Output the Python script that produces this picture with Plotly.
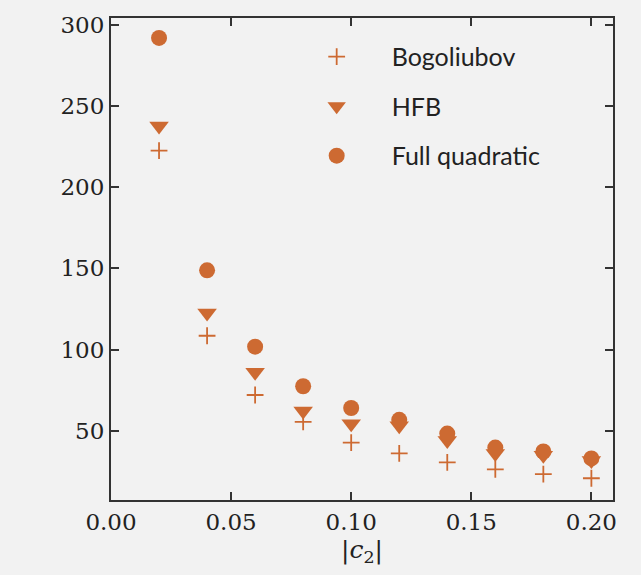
import plotly.graph_objects as go

c2 = [0.02, 0.04, 0.06, 0.08, 0.10, 0.12, 0.14, 0.16, 0.18, 0.20]
bogoliubov = [222.6, 108.5, 72.0, 55.5, 42.7, 36.0, 30.5, 26.2, 23.2, 20.7]
hfb = [237.8, 122.6, 86.0, 62.2, 54.3, 53.0, 43.9, 36.0, 34.8, 31.7]
full_quadratic = [292.0, 148.8, 101.8, 77.4, 64.0, 56.7, 48.2, 39.6, 37.2, 32.9]

x_ticks = [0.00, 0.05, 0.10, 0.15, 0.20]
y_ticks = [50, 100, 150, 200, 250, 300]

color = "#cd6a32"
bg = "#f2f2f2"
axis_color = "#333333"

fig = go.Figure()
fig.add_trace(go.Scatter(
    x=c2, y=bogoliubov, mode="markers", name="Bogoliubov", legendgroup="a",
    marker=dict(symbol="cross-thin", size=12, color=color, line=dict(color=color, width=1.8)),
))
fig.add_trace(go.Scatter(
    x=c2, y=hfb, mode="markers", name="HFB", legendgroup="b",
    marker=dict(symbol="triangle-down", size=17, color=color, line=dict(width=0)),
))
fig.add_trace(go.Scatter(
    x=c2, y=full_quadratic, mode="markers", name="Full quadratic", legendgroup="c",
    marker=dict(symbol="circle", size=16, color=color, line=dict(width=0)),
))

axis_common = dict(
    showline=True, linecolor=axis_color, linewidth=2, mirror="ticks",
    ticks="inside", ticklen=8, tickwidth=1.5, tickcolor=axis_color,
    showgrid=False, zeroline=False,
    tickfont=dict(family="DejaVu Serif", size=23, color="#222222"),
)

fig.update_layout(
    width=641, height=575,
    margin=dict(l=111, r=28, t=13, b=75),
    paper_bgcolor=bg, plot_bgcolor=bg,
    showlegend=True,
    legend=dict(
        x=0.34, y=0.967, xanchor="left", yanchor="top",
        bgcolor="rgba(0,0,0,0)", tracegroupgap=14, itemwidth=100,
        font=dict(family="Lato", size=25, color="#222222"),
    ),
    xaxis=dict(
        range=[0, 0.209], tickvals=x_ticks,
        ticktext=[f"{v:.2f}" for v in x_ticks],
        title=dict(text="|<i>c</i><sub>2</sub>|", standoff=4,
                   font=dict(family="DejaVu Serif", size=25, color="#222222")),
        **axis_common,
    ),
    yaxis=dict(
        range=[7.3, 304.3], tickvals=y_ticks,
        ticktext=[str(v) for v in y_ticks],
        **axis_common,
    ),
)

fig.write_html("out.html")
